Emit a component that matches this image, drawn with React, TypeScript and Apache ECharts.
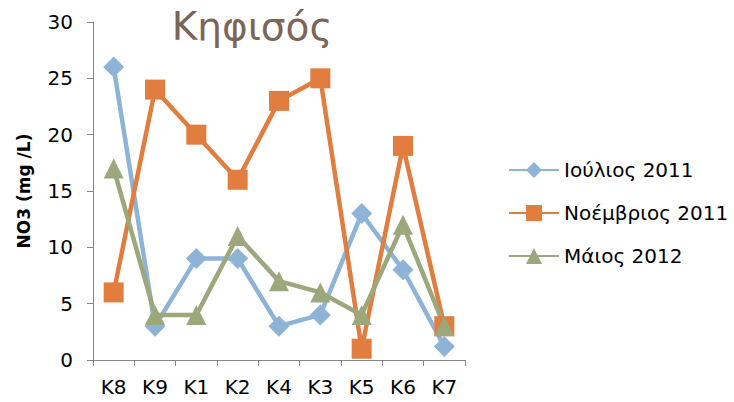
import React, { useEffect, useRef } from "react";
import * as echarts from "echarts";

const categories = ["K8", "K9", "K1", "K2", "K4", "K3", "K5", "K6", "K7"];
const july2011 = [26, 3, 9, 9, 3, 4, 13, 8, 1.2];
const nov2011 = [6, 24, 20, 16, 23, 25, 1, 19, 3];
const may2012 = [17, 4, 4, 11, 7, 6, 4, 12, 3];
const seriesNames = ["Ιούλιος 2011", "Νοέμβριος 2011", "Μάιος 2012"];

const FONT = "'DejaVu Sans', sans-serif";

export default function App() {
  const ref = useRef<HTMLDivElement>(null);
  useEffect(() => {
    if (!ref.current) return;
    const chart = echarts.init(ref.current, undefined, { renderer: "svg" });
    const mk = (name: string, data: number[], color: string, symbol: string, size: number) => ({
      name,
      type: "line",
      data,
      symbol,
      symbolSize: size,
      lineStyle: { color, width: 4.5 },
      itemStyle: { color },
    });
    chart.setOption({
      animation: false,
      backgroundColor: "#fff",
      title: {
        text: "Κηφισός",
        left: 252,
        top: 7,
        padding: 0,
        textAlign: "center",
        textStyle: { fontFamily: FONT, fontSize: 39, fontWeight: "normal", color: "#7B6559" },
      },
      legend: {
        orient: "vertical",
        left: 503,
        top: 155,
        itemWidth: 50,
        itemHeight: 20,
        itemGap: 23,
        textStyle: { fontFamily: FONT, fontSize: 20, color: "#000" },
        data: seriesNames,
      },
      grid: { left: 93, right: 269, top: 22, bottom: 42, containLabel: false },
      xAxis: {
        type: "category",
        data: categories,
        boundaryGap: true,
        axisLine: { lineStyle: { color: "#868686", width: 1 } },
        axisTick: { show: true, length: 6, lineStyle: { color: "#868686" } },
        axisLabel: { fontFamily: FONT, fontSize: 20, color: "#000", margin: 17 },
      },
      yAxis: {
        type: "value",
        min: 0,
        max: 30,
        interval: 5,
        name: "NO3 (mg /L)",
        nameLocation: "middle",
        nameGap: 61,
        nameTextStyle: { fontFamily: FONT, fontSize: 17, fontWeight: "bold", color: "#000" },
        axisLine: { show: true, lineStyle: { color: "#868686", width: 1 } },
        axisTick: { show: true, length: 6, lineStyle: { color: "#868686" } },
        splitLine: { show: false },
        axisLabel: { fontFamily: FONT, fontSize: 20, color: "#000", margin: 20 },
      },
      series: [
        mk(seriesNames[0], july2011, "#8DB3D7", "diamond", 21),
        mk(seriesNames[1], nov2011, "#E07D3F", "rect", 20),
        mk(seriesNames[2], may2012, "#9CA77B", "triangle", 20),
      ],
    });
    return () => chart.dispose();
  }, []);
  return <div ref={ref} style={{ width: 734, height: 402, position: "absolute", left: 0, top: 0 }} />;
}
